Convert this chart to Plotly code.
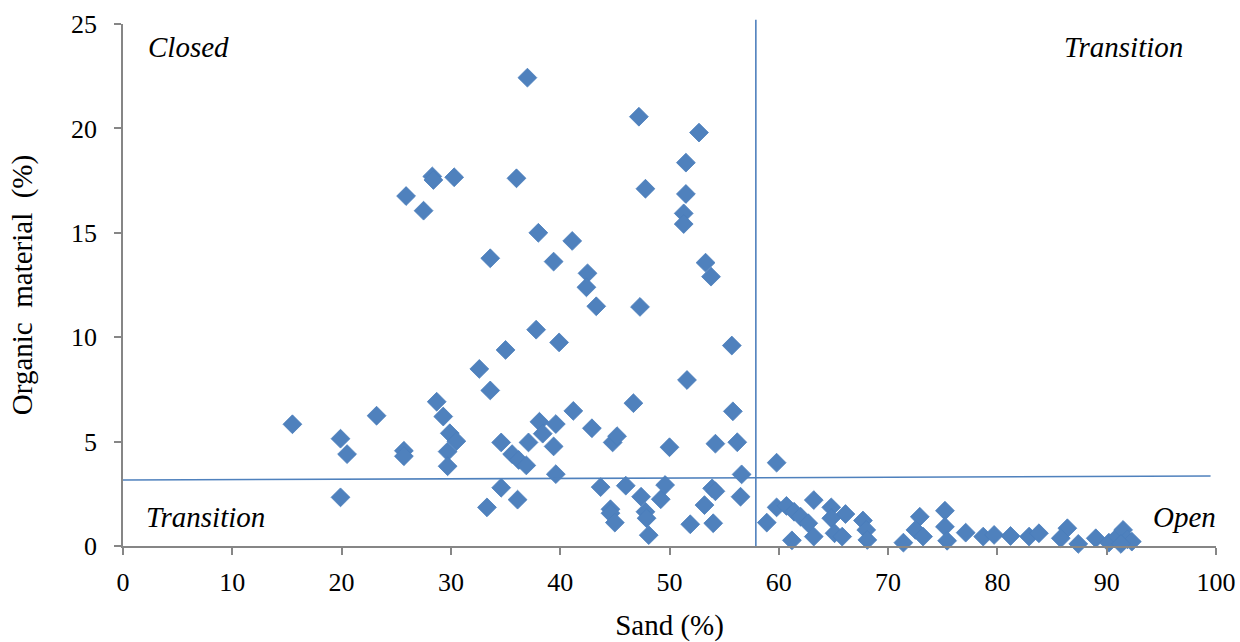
import plotly.graph_objects as go

sand = [15.5, 19.9, 19.9, 20.5, 23.2, 25.7, 25.7, 25.9, 27.5, 28.3, 28.4, 30.3, 28.7, 29.3, 29.9, 30.5,
        29.7, 29.7, 32.6, 33.3, 33.6, 33.6, 34.6, 34.6, 35.0, 35.6, 36.0, 36.2, 36.1, 37.0, 36.9, 37.1,
        37.8, 38.0, 38.1, 38.4, 39.4, 39.4, 39.6, 39.6, 39.9, 41.1, 41.2, 42.5, 42.4, 42.9, 43.3, 43.7,
        44.6, 44.6, 45.0, 44.8, 45.2, 46.0, 46.7, 47.2, 47.3, 47.4, 47.8, 47.8, 47.9, 48.1, 49.2, 49.6,
        50.0, 51.9, 51.6, 51.5, 51.5, 51.3, 51.3, 52.7, 53.2, 53.3, 53.8, 53.9, 54.2, 54.0, 54.2, 55.7,
        55.8, 56.2, 56.6, 56.5,
        59.8, 58.9, 59.8, 60.7, 61.4, 62.0, 62.7, 63.2, 61.2, 63.2, 64.8, 66.1, 64.8, 65.1, 65.8, 67.7,
        68.0, 68.1, 71.4, 72.9, 72.5, 73.2, 75.2, 75.2, 75.4, 77.1, 78.7, 79.7, 81.2, 82.9, 83.8, 86.4,
        85.8, 87.4, 89.0, 90.2, 91.0, 91.5, 91.9, 92.3, 91.3]
organic = [5.83, 5.14, 2.33, 4.40, 6.24, 4.56, 4.30, 16.76, 16.06, 17.70, 17.53, 17.66, 6.91, 6.20, 5.40, 5.02,
           4.52, 3.82, 8.48, 1.85, 13.78, 7.45, 4.96, 2.79, 9.39, 4.40, 17.61, 4.12, 2.22, 22.43, 3.86, 4.96,
           10.36, 15.00, 5.95, 5.38, 13.62, 4.77, 3.44, 5.84, 9.75, 14.61, 6.47, 13.06, 12.39, 5.64, 11.48, 2.82,
           1.76, 1.57, 1.12, 4.96, 5.26, 2.89, 6.84, 20.56, 11.45, 2.36, 17.11, 1.64, 1.33, 0.52, 2.24, 2.92,
           4.73, 1.04, 7.95, 18.36, 16.86, 15.93, 15.42, 19.80, 1.96, 13.57, 12.90, 2.76, 2.62, 1.09, 4.90, 9.60,
           6.45, 4.97, 3.43, 2.36,
           3.99, 1.12, 1.85, 1.92, 1.64, 1.40, 1.09, 0.45, 0.27, 2.20, 1.85, 1.53, 1.33, 0.61, 0.45, 1.22,
           0.77, 0.29, 0.16, 1.40, 0.77, 0.45, 1.69, 0.92, 0.25, 0.64, 0.45, 0.53, 0.48, 0.45, 0.61, 0.85,
           0.37, 0.10, 0.37, 0.16, 0.45, 0.77, 0.32, 0.21, 0.10]

# threshold lines (data units)
h_line_x = [0, 99.5]
h_line_y = [3.16, 3.35]
v_line_x = 57.9

quadrant_labels = ["Closed", "Transition", "Transition", "Open"]

BLUE = "#4F81BD"
AXIS = "#868686"
FONT = "Liberation Serif"

fig = go.Figure()
fig.add_trace(go.Scatter(
    x=sand, y=organic, mode="markers",
    marker=dict(symbol="diamond", size=14.5, color=BLUE, line=dict(color="#4A7EBB", width=0.8)),
    showlegend=False, cliponaxis=False))

fig.add_shape(type="line", xref="x", yref="y", x0=h_line_x[0], x1=h_line_x[1],
              y0=h_line_y[0], y1=h_line_y[1], line=dict(color=BLUE, width=1.6))
fig.add_shape(type="line", xref="x", yref="paper", x0=v_line_x, x1=v_line_x,
              y0=0, y1=1.008, line=dict(color=BLUE, width=1.6))

ann_font = dict(family=FONT, size=29, color="black")
fig.add_annotation(x=0.021, y=0.955, xref="paper", yref="paper", text="<i>" + quadrant_labels[0] + "</i>",
                   showarrow=False, xanchor="left", yanchor="middle", font=ann_font)
fig.add_annotation(x=0.972, y=0.955, xref="paper", yref="paper", text="<i>" + quadrant_labels[1] + "</i>",
                   showarrow=False, xanchor="right", yanchor="middle", font=ann_font)
fig.add_annotation(x=0.019, y=0.056, xref="paper", yref="paper", text="<i>" + quadrant_labels[2] + "</i>",
                   showarrow=False, xanchor="left", yanchor="middle", font=ann_font)
fig.add_annotation(x=1.002, y=0.056, xref="paper", yref="paper", text="<i>" + quadrant_labels[3] + "</i>",
                   showarrow=False, xanchor="right", yanchor="middle", font=ann_font)

fig.update_layout(
    width=1240, height=642,
    margin=dict(l=123, r=24, t=24, b=96),
    plot_bgcolor="white", paper_bgcolor="white",
    font=dict(family=FONT, size=26, color="black"),
    xaxis=dict(range=[0, 100], dtick=10, showgrid=False, zeroline=False, automargin=False,
               showline=True, linecolor=AXIS, linewidth=1.5,
               ticks="outside", ticklen=7, tickcolor=AXIS, tickwidth=1.5,
               ticklabelstandoff=5,
               title=dict(text="Sand (%)", standoff=27, font=dict(size=29))),
    yaxis=dict(range=[0, 25], dtick=5, showgrid=False, zeroline=False, automargin=False,
               showline=True, linecolor=AXIS, linewidth=1.5,
               ticks="outside", ticklen=7, tickcolor=AXIS, tickwidth=1.5,
               ticklabelstandoff=12,
               title=dict(text="Organic  material  (%)", standoff=30, font=dict(size=29))),
)

fig.write_html("out.html")
